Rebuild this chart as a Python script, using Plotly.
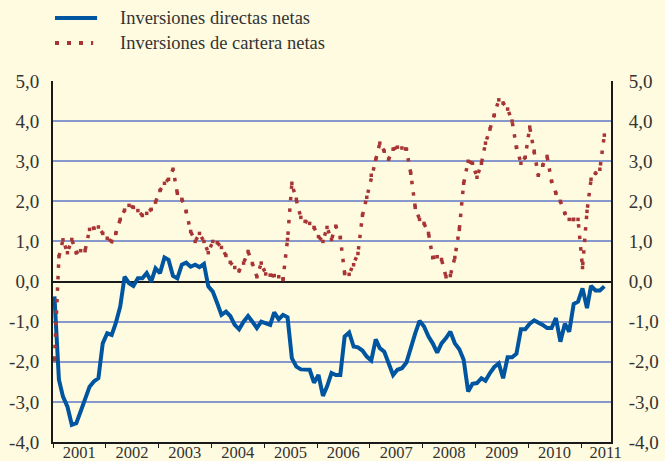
import pandas as pd
import plotly.graph_objects as go

# monthly series, Jan 2001 - Jun 2011
months = pd.date_range("2001-01-01", periods=126, freq="MS") + pd.Timedelta(days=10)

directas = [
    -0.37, -2.45, -2.87, -3.12, -3.57, -3.53, -3.24, -2.91, -2.62, -2.49, -2.41, -1.54,
    -1.29, -1.33, -1.04, -0.62, 0.12, -0.04, -0.11, 0.08, 0.08, 0.21, 0.0, 0.33,
    0.21, 0.60, 0.54, 0.14, 0.08, 0.42, 0.47, 0.37, 0.42, 0.36, 0.44, -0.12,
    -0.25, -0.54, -0.83, -0.75, -0.86, -1.08, -1.19, -1.00, -0.86, -1.00, -1.16, -1.00,
    -1.05, -1.08, -0.77, -0.94, -0.83, -0.89, -1.91, -2.12, -2.19, -2.19, -2.20, -2.52,
    -2.33, -2.85, -2.62, -2.28, -2.33, -2.33, -1.37, -1.27, -1.62, -1.64, -1.72, -1.87,
    -1.97, -1.44, -1.66, -1.75, -2.04, -2.33, -2.20, -2.16, -2.02, -1.62, -1.29, -0.98,
    -1.12, -1.37, -1.54, -1.77, -1.54, -1.41, -1.25, -1.54, -1.69, -1.95, -2.74, -2.55,
    -2.53, -2.41, -2.47, -2.28, -2.13, -2.04, -2.41, -1.89, -1.89, -1.80, -1.19, -1.19,
    -1.05, -0.97, -1.02, -1.08, -1.16, -1.16, -0.91, -1.50, -1.05, -1.25, -0.56, -0.50,
    -0.17, -0.66, -0.11, -0.22, -0.22, -0.12,
]

cartera = [
    -1.95, 0.62, 1.04, 0.72, 1.05, 0.72, 0.77, 0.77, 1.30, 1.33, 1.36, 1.20,
    1.08, 1.00, 1.20, 1.55, 1.78, 1.90, 1.85, 1.77, 1.65, 1.70, 1.80, 1.98,
    2.27, 2.45, 2.55, 2.80, 2.20, 2.05, 1.75, 1.25, 1.00, 1.20, 1.00, 0.72,
    1.00, 0.97, 0.85, 0.65, 0.48, 0.35, 0.27, 0.46, 0.75, 0.45, 0.12, 0.46,
    0.19, 0.16, 0.15, 0.12, 0.06, 1.05, 2.45, 2.05, 1.60, 1.50, 1.45, 1.35,
    1.12, 1.00, 1.35, 1.05, 1.38, 1.10, 0.20, 0.18, 0.42, 0.70, 1.65, 2.10,
    2.65, 3.05, 3.45, 3.25, 3.05, 3.30, 3.35, 3.33, 3.30, 2.70, 1.85, 1.55,
    1.45, 1.20, 0.60, 0.62, 0.55, 0.12, 0.15, 0.60, 1.30, 2.45, 3.00, 2.95,
    2.60, 2.95, 3.45, 3.80, 4.15, 4.53, 4.45, 4.30, 4.00, 3.35, 2.95, 3.10,
    3.85, 3.25, 2.65, 2.90, 3.12, 2.50, 2.20, 2.00, 1.70, 1.55, 1.55, 1.55,
    0.35, 1.75, 2.55, 2.70, 2.80, 3.65,
]

years = list(range(2001, 2012))
year_labels = [str(y) for y in years]
y_ticks = [-4, -3, -2, -1, 0, 1, 2, 3, 4, 5]
y_labels = ["-4,0", "-3,0", "-2,0", "-1,0", "0,0", "1,0", "2,0", "3,0", "4,0", "5,0"]

BG = "#FFFBE0"
BLUE = "#0055A0"
RED = "#A83535"
GRID = "#8798CC"
TXT = "#333333"
FONT = "Liberation Serif"

label_pos = [pd.Timestamp(f"{y}-07-02") for y in years[:-1]] + [pd.Timestamp("2011-06-20")]
year_starts = [pd.Timestamp(f"{y}-01-01") for y in years]

fig = go.Figure()

fig.add_trace(go.Scatter(
    x=months, y=directas, mode="lines", name="Inversiones directas netas",
    line=dict(color=BLUE, width=4),
))
fig.add_trace(go.Scatter(
    x=months, y=cartera, mode="lines+markers", name="Inversiones de cartera netas",
    line=dict(color=RED, width=3.5, dash="3.5px,8px"),
    marker=dict(symbol="square", size=3.5, color=RED, line=dict(width=0)),
    yaxis="y2",
))

# legend drawn by hand
fig.add_shape(type="line", xref="paper", yref="paper", x0=0.0036, x1=0.079, y0=1.1745, y1=1.1745,
              line=dict(color=BLUE, width=4))
fig.add_shape(type="line", xref="paper", yref="paper", x0=0.0036, x1=0.072, y0=1.105, y1=1.105,
              line=dict(color=RED, width=4, dash="4px,8px"))
fig.add_annotation(text="Inversiones directas netas", xref="paper", yref="paper", x=0.117, y=1.1745,
                   xanchor="left", yanchor="middle", showarrow=False, font=dict(family=FONT, size=18.5, color=TXT))
fig.add_annotation(text="Inversiones de cartera netas", xref="paper", yref="paper", x=0.117, y=1.105,
                   xanchor="left", yanchor="middle", showarrow=False, font=dict(family=FONT, size=18.5, color=TXT))

axis_y = dict(
    range=[-4, 5], tickmode="array", tickvals=y_ticks, ticktext=y_labels,
    showline=True, linecolor="#1A1A1A", linewidth=2, ticks="",
    tickfont=dict(family=FONT, size=19, color=TXT), automargin=False,
)

fig.update_layout(
    width=665, height=461,
    margin=dict(l=53, r=54, t=81, b=19),
    paper_bgcolor=BG, plot_bgcolor=BG,
    showlegend=False,
    xaxis=dict(
        type="date", range=["2001-01-01", "2011-07-27"],
        tickmode="array", tickvals=label_pos, ticktext=year_labels, ticks="",
        showgrid=False, zeroline=False,
        showline=True, linecolor="#1A1A1A", linewidth=2,
        tickfont=dict(family=FONT, size=16.5, color=TXT), automargin=False,
        ticklabelstandoff=-6,
        minor=dict(tickmode="array", tickvals=year_starts, ticks="outside", ticklen=4,
                   tickcolor="#1A1A1A", tickwidth=1, showgrid=False),
    ),
    yaxis=dict(**axis_y, showgrid=True, gridcolor=GRID, gridwidth=1.5,
               zeroline=True, zerolinecolor="#1A1A1A", zerolinewidth=2, ticklabelstandoff=8),
    yaxis2=dict(**axis_y, overlaying="y", side="right", showgrid=False, zeroline=False,
                ticklabelstandoff=12),
)

fig.write_html(
    "out.html",
    config={"displayModeBar": False},
    post_script="document.body.style.margin='0px';document.body.style.backgroundColor='#FFFBE0';",
)
